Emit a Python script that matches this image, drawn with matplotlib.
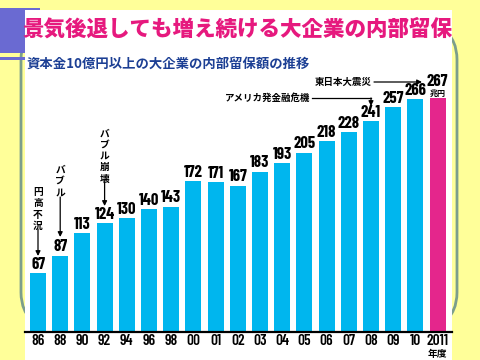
import numpy as np
import matplotlib
matplotlib.use('Agg')
import matplotlib.pyplot as plt
from matplotlib.patches import Rectangle, FancyBboxPatch

plt.rcParams['font.family'] = ['Noto Sans CJK JP', 'DejaVu Sans']

years = ['86', '88', '90', '92', '94', '96', '98', '00', '01', '02', '03',
         '04', '05', '06', '07', '08', '09', '10', '2011']
values = [67, 87, 113, 124, 130, 140, 143, 172, 171, 167, 183,
          193, 205, 218, 228, 241, 257, 266, 267]

title = '景気後退しても増え続ける大企業の内部留保'
subtitle = '資本金10億円以上の大企業の内部留保額の推移'

W, H = 480, 360
fig = plt.figure(figsize=(4.8, 3.6), dpi=100, facecolor='#FFFF99')


def fx(px):
    return px / W


def fy(py):
    return 1 - py / H


# slide decoration
fig.patches.append(FancyBboxPatch((fx(21), fy(332)), fx(436), fy(20) - fy(332),
                                  boxstyle='round,pad=0,rounding_size=0.11',
                                  transform=fig.transFigure, fc='none',
                                  ec='#7C9E8C', lw=2, zorder=1))
fig.patches.append(Rectangle((0, fy(53)), fx(40), fy(8) - fy(53),
                             transform=fig.transFigure, fc='#6A6AD2', ec='none',
                             zorder=1))
fig.patches.append(Rectangle((0, fy(60)), fx(40), fy(57) - fy(60),
                             transform=fig.transFigure, fc='#6A6AD2', ec='none',
                             zorder=1))
fig.patches.append(Rectangle((fx(25), 0), fx(427), fy(10),
                             transform=fig.transFigure, fc='white', ec='none',
                             zorder=2))

fig.text(fx(238), fy(29), title, ha='center', va='center', fontsize=15.5,
         fontweight='heavy', color='#E6197E', zorder=3)
fig.text(fx(27), fy(64), subtitle, ha='left', va='center', fontsize=9.6,
         fontweight='bold', color='#1C3F94', zorder=3)

# chart
px_per_unit = 0.874
base = 331.7
top = 10
ax = fig.add_axes([fx(25), fy(base), fx(427), (base - top) / H])
ax.set_zorder(5)
ax.set_facecolor('none')
x = np.arange(len(years))
colors = ['#00B6EE'] * (len(years) - 1) + ['#E4268C']
ax.bar(x, values, width=0.72, color=colors)
step = 22.2
ax.set_xlim(-(38 - 25) / step, (452 - 38) / step)
ax.set_ylim(0, (base - top) / px_per_unit)
for s in ['top', 'left', 'right']:
    ax.spines[s].set_visible(False)
ax.spines['bottom'].set_linewidth(1.6)
ax.set_yticks([])
ax.set_xticks(x)
numfont = ['Barlow Condensed', 'Roboto Condensed', 'Noto Sans CJK JP']
ax.set_xticklabels(years, fontsize=11, family=numfont, fontweight=600)
ax.tick_params(axis='x', length=0, pad=2)


def dy(py):
    return (base - py) / px_per_unit


def dx(px):
    return (px - 38) / step


ax.text(len(years) - 1, dy(354), '年度', ha='center', va='center', fontsize=7,
        fontweight='bold', clip_on=False)

for i, v in enumerate(values):
    if i == len(values) - 1:
        ax.text(i, v + 10.5, str(v), ha='center', va='bottom', fontsize=12,
                family=numfont, fontweight='bold', clip_on=False)
        ax.text(i, v + 1, '兆円', ha='center', va='bottom', fontsize=5.8,
                fontweight='bold', clip_on=False)
    else:
        ax.text(i, v + 1.5, str(v), ha='center', va='bottom', fontsize=12,
                family=numfont, fontweight='bold')

arrow = dict(arrowstyle='-|>', color='black', lw=0.9, mutation_scale=7,
             shrinkA=0, shrinkB=0)
vlabels = [(0, '円\n高\n不\n況', 209, 229, 256),
           (1, 'バ\nブ\nル', 181, 197, 237),
           (3, 'バ\nブ\nル\n崩\n壊', 156, 182, 206)]
for i, t, yc, y0, y1 in vlabels:
    ax.text(i, dy(yc), t, ha='center', va='center', fontsize=7,
            fontweight='bold', linespacing=1.15, clip_on=False)
    ax.annotate('', xy=(i, dy(y1)), xytext=(i, dy(y0)), arrowprops=arrow,
                annotation_clip=False)

ax.text(dx(310), dy(98), 'アメリカ発金融危機', ha='right', va='center',
        fontsize=6.8, fontweight='bold', clip_on=False)
ax.plot([dx(312), 15], [dy(98), dy(98)], color='black', lw=0.9, clip_on=False)
ax.annotate('', xy=(15, dy(106)), xytext=(15, dy(98)), arrowprops=arrow,
            annotation_clip=False)

ax.text(dx(372), dy(82), '東日本大震災', ha='right', va='center',
        fontsize=6.8, fontweight='bold', clip_on=False)
ax.annotate('', xy=(dx(422), dy(82)), xytext=(dx(374), dy(82)),
            arrowprops=arrow, annotation_clip=False)

fig.savefig('out.png', dpi=100, facecolor=fig.get_facecolor())
